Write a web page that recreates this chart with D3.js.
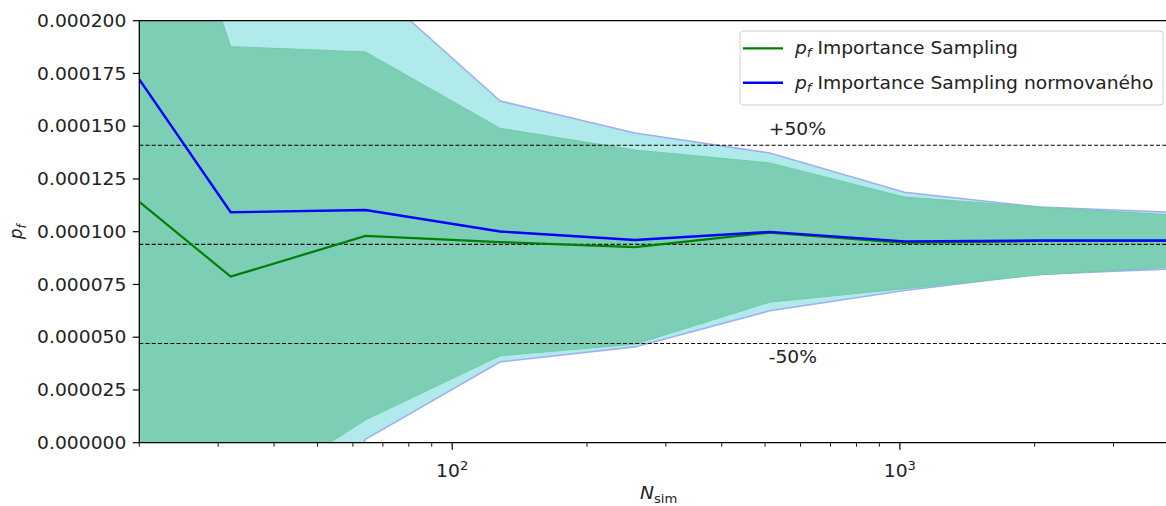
<!DOCTYPE html>
<html>
<head>
<meta charset="utf-8">
<script src="https://cdn.jsdelivr.net/npm/d3@7"></script>
<style>
  html, body { margin: 0; padding: 0; background: #fff; }
  svg { display: block; font-family: "DejaVu Sans", sans-serif; }
</style>
</head>
<body>
<svg id="chart" width="1166" height="506"></svg>
<script>
// Number of simulations
const nSim = [20, 32, 64, 128, 256, 512, 1024, 2048, 4096];

// Failure probability estimates
const pfIS     = [0.0001142, 0.0000787, 0.0000980, 0.0000951, 0.0000927, 0.0000996, 0.0000947, 0.0000956, 0.0000956];
const pfISnorm = [0.0001722, 0.0001092, 0.0001103, 0.0001001, 0.0000961, 0.0000999, 0.0000954, 0.0000958, 0.0000958];

// Half-widths of the confidence bands (estimate ± spread)
const spreadIS     = [0.0002060, 0.0001090, 0.0000872, 0.0000539, 0.0000460, 0.0000330, 0.0000217, 0.0000161, 0.0000123];
const spreadISnorm = [0.0002500, 0.0002130, 0.0001087, 0.0000618, 0.0000507, 0.0000374, 0.0000233, 0.0000159, 0.0000134];

// Reference value and ±50 % limits
const pfRef = 0.0000940;
const refLevels = [0.5, 1.0, 1.5];

const yTicks = [0, 0.000025, 0.00005, 0.000075, 0.0001, 0.000125, 0.00015, 0.000175, 0.0002];
const xMajorTicks = [100, 1000];
const xMinorTicks = [20, 30, 40, 50, 60, 70, 80, 90, 200, 300, 400, 500, 600, 700, 800, 900, 2000, 3000, 4000];

const svg = d3.select("#chart");
const pL = 139.3, pR = 1174, pT = 20.7, pB = 442.7;
const SX = 1.1; // horizontal text stretch

const x = d3.scaleLog().domain([20, 4096]).range([pL, pR]);
const y = d3.scaleLinear().domain([0, 0.0002]).range([pB, pT]);

// text placed at (tx, ty), widened horizontally by SX
function label(parent, tx, ty, size, anchor) {
  return parent.append("g").attr("transform", `translate(${tx},${ty}) scale(${SX},1)`)
    .append("text").attr("x", 0).attr("y", 0)
    .attr("text-anchor", anchor || "start").attr("font-size", size).attr("fill", "#222");
}

svg.append("defs").append("clipPath").attr("id", "plotClip")
  .append("rect").attr("x", pL).attr("y", pT).attr("width", pR - pL).attr("height", pB - pT);

const plot = svg.append("g").attr("clip-path", "url(#plotClip)");

const rows = nSim.map((n, i) => ({
  n, is: pfIS[i], norm: pfISnorm[i], sIs: spreadIS[i], sNorm: spreadISnorm[i]
}));

// Bands
plot.append("path").datum(rows)
  .attr("d", d3.area().x(d => x(d.n)).y0(d => y(d.norm - d.sNorm)).y1(d => y(d.norm + d.sNorm)))
  .attr("fill", "#b0eaea").attr("stroke", "#9fb0f2").attr("stroke-width", 1.6);

plot.append("path").datum(rows)
  .attr("d", d3.area().x(d => x(d.n)).y0(d => y(d.is - d.sIs)).y1(d => y(d.is + d.sIs)))
  .attr("fill", "#7ccfb4").attr("stroke", "#74c9aa").attr("stroke-width", 1);

// Reference lines
refLevels.forEach(k => {
  plot.append("line")
    .attr("x1", pL).attr("x2", pR)
    .attr("y1", y(pfRef * k)).attr("y2", y(pfRef * k))
    .attr("stroke", "#000").attr("stroke-width", 1.1)
    .attr("stroke-dasharray", "4,2.2");
});

// Estimate lines
plot.append("path").datum(rows)
  .attr("d", d3.line().x(d => x(d.n)).y(d => y(d.is)))
  .attr("fill", "none").attr("stroke", "#008000").attr("stroke-width", 2.2);

plot.append("path").datum(rows)
  .attr("d", d3.line().x(d => x(d.n)).y(d => y(d.norm)))
  .attr("fill", "none").attr("stroke", "#0000ff").attr("stroke-width", 2.4);

// Limit annotations
label(svg, x(512) - 1, y(pfRef * 1.5) - 10, 17).text("+50%");
label(svg, x(512) - 1, y(pfRef * 0.5) + 19, 17).text("-50%");

// Frame
const frame = svg.append("g").attr("stroke", "#000").attr("stroke-width", 1.3);
frame.append("line").attr("x1", pL).attr("x2", pL).attr("y1", pT).attr("y2", pB);
frame.append("line").attr("x1", pL).attr("x2", pR).attr("y1", pB).attr("y2", pB);
frame.append("line").attr("x1", pL).attr("x2", pR).attr("y1", pT).attr("y2", pT);

// Y axis
const yAxis = svg.append("g");
yTicks.forEach(t => {
  yAxis.append("line").attr("x1", pL - 6.5).attr("x2", pL).attr("y1", y(t)).attr("y2", y(t))
    .attr("stroke", "#000").attr("stroke-width", 1.2);
  label(yAxis, pL - 13, y(t), 17, "end").attr("dy", "0.36em").text(d3.format(".6f")(t));
});

// X axis
const xAxis = svg.append("g");
xMinorTicks.forEach(t => {
  xAxis.append("line").attr("x1", x(t)).attr("x2", x(t)).attr("y1", pB).attr("y2", pB + 4)
    .attr("stroke", "#000").attr("stroke-width", 0.9);
});
xMajorTicks.forEach(t => {
  xAxis.append("line").attr("x1", x(t)).attr("x2", x(t)).attr("y1", pB).attr("y2", pB + 7)
    .attr("stroke", "#000").attr("stroke-width", 1.2);
  const lbl = label(xAxis, x(t), pB + 34, 17, "middle");
  lbl.append("tspan").text("10");
  lbl.append("tspan").attr("font-size", 12).attr("dy", -7).text(String(Math.round(Math.log10(t))));
});

// Axis titles
const xt = label(svg, (pL + 1166) / 2 + 6, 499, 17, "middle");
xt.append("tspan").attr("font-style", "italic").text("N");
xt.append("tspan").attr("font-size", 12).attr("dy", 4).text("sim");

const yt = svg.append("text").attr("transform", `translate(22,${(pT + pB) / 2}) rotate(-90)`)
  .attr("text-anchor", "middle").attr("font-size", 17).attr("fill", "#222");
yt.append("tspan").attr("font-style", "italic").text("p");
yt.append("tspan").attr("font-style", "italic").attr("font-size", 12).attr("dy", 4).text("f");

// Legend
const legendItems = [
  { color: "#008000", label: " Importance Sampling", width: 2.2 },
  { color: "#0000ff", label: " Importance Sampling normovaného", width: 2.4 }
];
const lg = svg.append("g");
lg.append("rect").attr("x", 740).attr("y", 31).attr("width", 423).attr("height", 74).attr("rx", 3)
  .attr("fill", "#fff").attr("fill-opacity", 0.85).attr("stroke", "#d0d0d0").attr("stroke-width", 1);
legendItems.forEach((it, i) => {
  const cy = 48.3 + i * 34.4;
  lg.append("line").attr("x1", 743).attr("x2", 783).attr("y1", cy).attr("y2", cy)
    .attr("stroke", it.color).attr("stroke-width", it.width);
  const t = label(lg, 795, cy, 17).attr("dy", "0.36em");
  t.append("tspan").attr("font-style", "italic").text("p");
  t.append("tspan").attr("font-style", "italic").attr("font-size", 12).attr("dy", 3).text("f");
  t.append("tspan").attr("dy", -3).text(it.label);
});
</script>
</body>
</html>
